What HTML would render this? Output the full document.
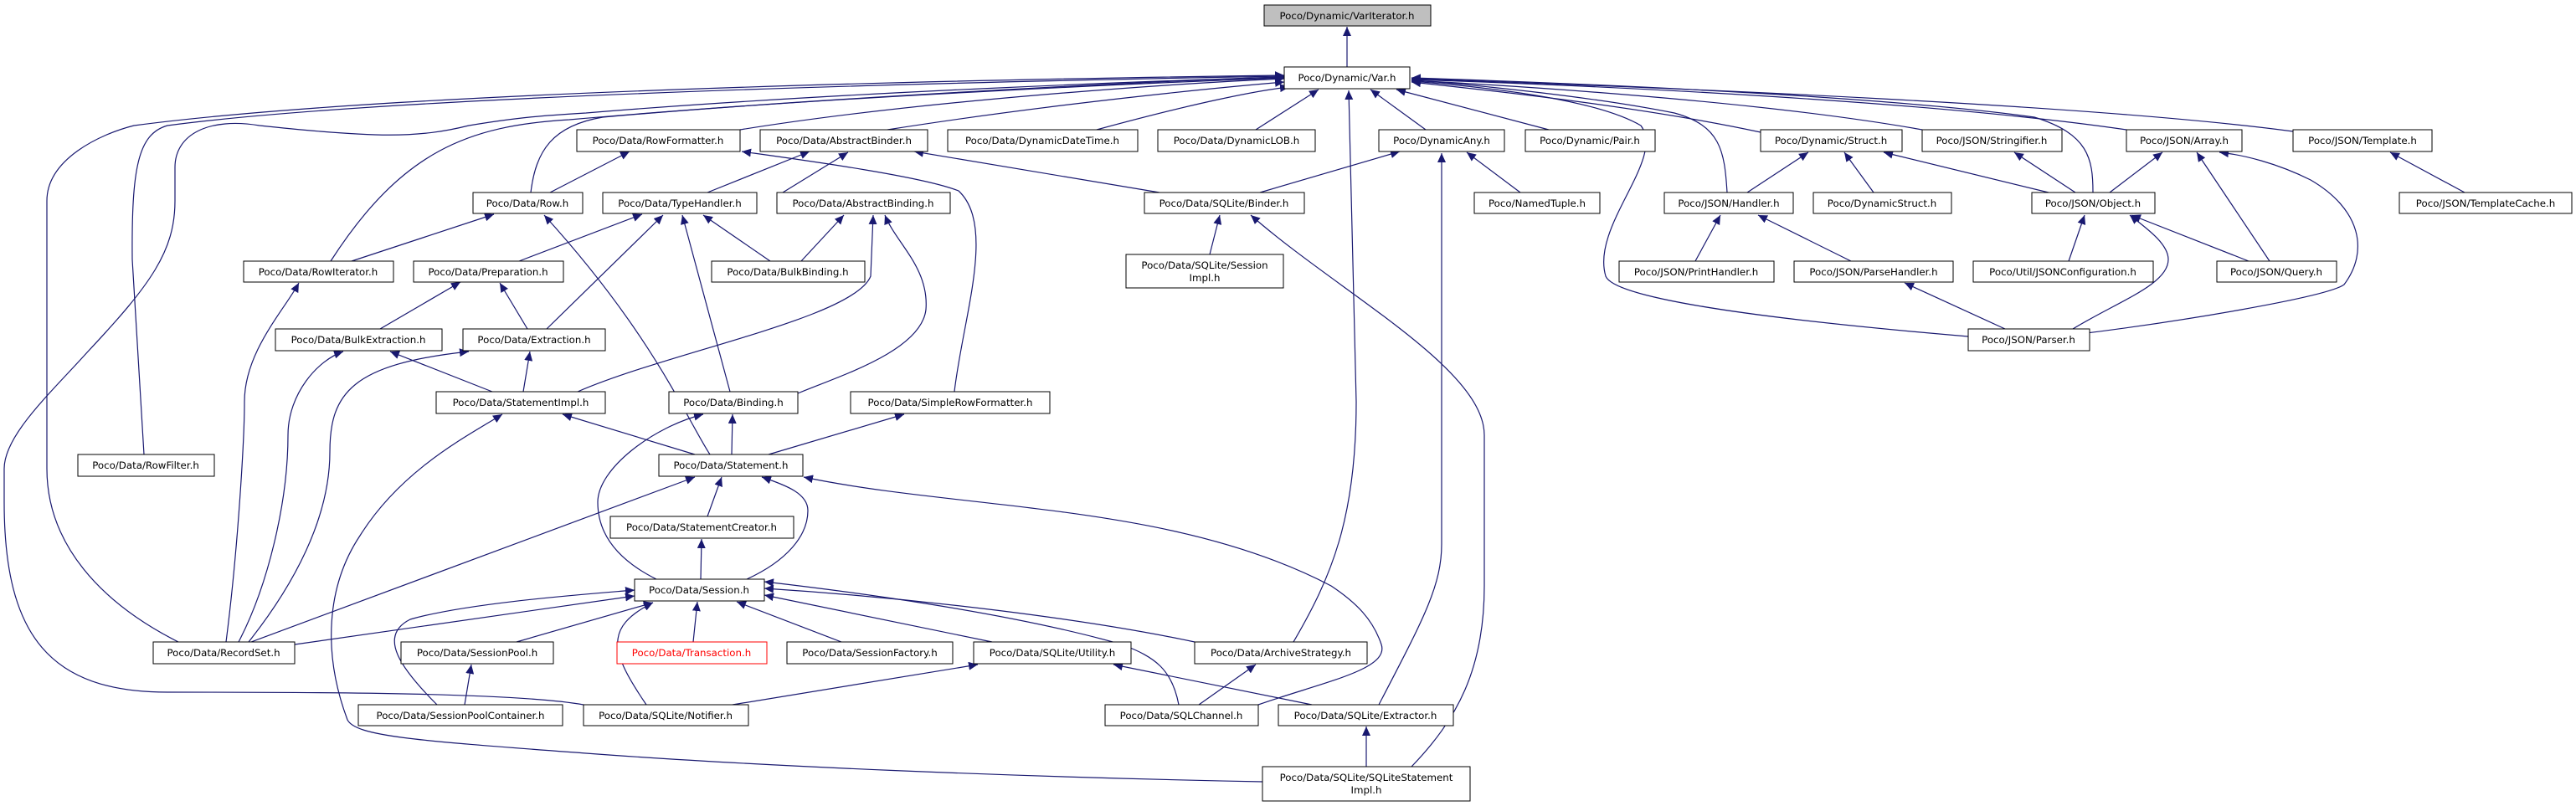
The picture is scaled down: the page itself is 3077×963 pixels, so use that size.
<!DOCTYPE html>
<html><head><meta charset="utf-8"><style>
html,body{margin:0;padding:0;background:#fff;}
svg{display:block}
text{font-family:"DejaVu Sans","Liberation Sans",sans-serif;font-size:11.8px;fill:#000;text-anchor:middle}
.e{fill:none;stroke:#191970;stroke-width:1.2}
.n{fill:#fff;stroke:#000;stroke-width:1}
</style></head><body>
<svg width="3077" height="963" viewBox="0 0 3077 963" xmlns="http://www.w3.org/2000/svg">
<defs><marker id="a" markerUnits="userSpaceOnUse" markerWidth="12" markerHeight="10" refX="11" refY="5" orient="auto"><path d="M0,0 L11,5 L0,10 z" fill="#191970"/></marker></defs>
<g class="e" marker-end="url(#a)">
<path d="M1609,80 L1609,32"/>
<path d="M884,155 C1100,120 1400,100 1534,94"/>
<path d="M1060,155 C1250,125 1450,105 1534,98"/>
<path d="M1310,155 C1420,125 1500,108 1540,104"/>
<path d="M1500,155 L1575,107"/>
<path d="M1703,155 L1637,107"/>
<path d="M1850,155 L1668,107"/>
<path d="M1545,767 C1590,690 1620,620 1620,480 L1611,108"/>
<path d="M634,230 C640,180 660,150 720,140 C1000,115 1400,98 1534,93"/>
<path d="M395,312 C480,180 560,150 680,143 C1000,115 1400,96 1534,92"/>
<path d="M172,543 L158,310 C157,200 165,160 200,150 C500,110 1300,95 1534,91"/>
<path d="M213,767 C120,720 56,650 56,560 L56,240 C56,190 120,160 160,150 C500,105 1300,93 1534,90"/>
<path d="M697,842 C620,828 400,827 200,827 C60,827 5,760 5,600 L5,560 C5,520 60,470 105,420 C180,340 209,300 209,240 L209,200 C209,160 250,140 310,150 C450,165 500,165 560,150 C620,140 650,138 700,135 C1000,110 1400,96 1534,92"/>
<path d="M2103,158 C1950,125 1750,105 1686,98"/>
<path d="M2296,155 C2100,120 1800,102 1686,96"/>
<path d="M2540,155 C2300,120 1900,102 1686,95"/>
<path d="M2739,157 C2500,125 2000,105 1686,94"/>
<path d="M2500,230 C2500,190 2495,160 2430,140 C2250,115 1900,100 1686,93"/>
<path d="M2063,230 C2060,180 2055,150 2000,135 C1900,115 1750,100 1686,96"/>
<path d="M2351,402 C2150,385 1930,360 1918,330 C1900,270 1990,190 1960,150 C1900,115 1750,102 1686,97"/>
<path d="M657,230 L752,181"/>
<path d="M845,230 L967,181"/>
<path d="M935,230 L1013,182"/>
<path d="M1385,230 L1092,181"/>
<path d="M1140,468 C1150,380 1190,270 1145,228 C1100,210 950,190 886,181"/>
<path d="M1505,230 L1672,181"/>
<path d="M1816,230 L1752,182"/>
<path d="M1647,842 C1700,740 1722,700 1722,650 L1722,183"/>
<path d="M1445,304 L1457,257"/>
<path d="M1686,916 C1740,860 1773,800 1773,700 L1773,520 C1773,440 1600,350 1494,257"/>
<path d="M420,312 L590,256"/>
<path d="M848,543 C820,500 780,400 650,257"/>
<path d="M620,312 L767,256"/>
<path d="M653,393 L792,257"/>
<path d="M872,468 L815,257"/>
<path d="M920,312 L840,257"/>
<path d="M957,312 L1008,257"/>
<path d="M690,468 C800,420 1020,380 1040,330 L1043,257"/>
<path d="M953,470 C1000,450 1100,420 1106,370 C1110,320 1070,290 1057,257"/>
<path d="M454,393 L550,337"/>
<path d="M630,393 L597,338"/>
<path d="M270,767 C285,650 292,520 292,480 C292,420 340,370 357,338"/>
<path d="M588,468 L466,420"/>
<path d="M625,468 L633,420"/>
<path d="M285,767 C320,700 344,600 344,520 C344,470 380,430 410,420"/>
<path d="M297,767 C350,700 394,620 394,540 C394,470 420,435 560,420"/>
<path d="M830,543 L672,495"/>
<path d="M1508,934 C1200,928 900,915 700,900 C500,885 425,880 415,860 C385,780 390,700 430,640 C480,560 560,520 600,495"/>
<path d="M874,543 L875,495"/>
<path d="M784,692 C740,670 714,640 714,600 C714,560 780,510 840,495"/>
<path d="M918,543 L1080,495"/>
<path d="M845,617 L862,570"/>
<path d="M892,692 C940,670 965,640 965,610 C965,590 940,580 910,570"/>
<path d="M300,767 L830,570"/>
<path d="M1503,842 C1580,815 1660,800 1650,770 C1640,740 1620,720 1590,700 C1400,600 1150,610 960,570"/>
<path d="M837,692 L838,644"/>
<path d="M352,770 L758,712"/>
<path d="M522,842 C480,800 450,760 490,740 C560,720 700,710 758,705"/>
<path d="M772,842 C730,780 720,750 780,720"/>
<path d="M617,767 L780,720"/>
<path d="M828,767 L833,719"/>
<path d="M1005,767 L880,719"/>
<path d="M1185,767 L913,711"/>
<path d="M1427,767 C1300,740 1100,715 913,703"/>
<path d="M1408,842 C1400,800 1380,785 1340,770 C1200,730 1000,705 913,695"/>
<path d="M555,842 L563,794"/>
<path d="M875,842 L1168,794"/>
<path d="M1567,842 L1330,794"/>
<path d="M1432,842 L1500,794"/>
<path d="M1632,916 L1632,868"/>
<path d="M2087,230 L2160,182"/>
<path d="M2238,230 L2203,182"/>
<path d="M2447,230 L2250,182"/>
<path d="M2479,230 L2406,182"/>
<path d="M2520,230 L2583,182"/>
<path d="M2711,312 L2624,182"/>
<path d="M2476,400 C2600,385 2780,355 2800,340 C2830,300 2820,250 2760,215 C2720,195 2680,185 2651,182"/>
<path d="M2944,230 L2855,182"/>
<path d="M2025,312 L2055,257"/>
<path d="M2211,312 L2100,257"/>
<path d="M2471,312 L2490,257"/>
<path d="M2686,312 L2546,257"/>
<path d="M2476,393 C2530,360 2590,340 2590,310 C2590,290 2560,270 2544,257"/>
<path d="M2395,393 L2275,338"/>
</g>
<g>
<rect class="n" x="1510" y="6" width="199" height="25" style="fill:#bfbfbf"/><text x="1609" y="23">Poco/Dynamic/VarIterator.h</text>
<rect class="n" x="1534" y="80" width="150" height="26"/><text x="1609" y="97">Poco/Dynamic/Var.h</text>
<rect class="n" x="689" y="155" width="195" height="26"/><text x="786" y="172">Poco/Data/RowFormatter.h</text>
<rect class="n" x="908" y="155" width="200" height="26"/><text x="1008" y="172">Poco/Data/AbstractBinder.h</text>
<rect class="n" x="1132" y="155" width="227" height="26"/><text x="1245" y="172">Poco/Data/DynamicDateTime.h</text>
<rect class="n" x="1383" y="155" width="188" height="26"/><text x="1477" y="172">Poco/Data/DynamicLOB.h</text>
<rect class="n" x="1647" y="155" width="150" height="26"/><text x="1722" y="172">Poco/DynamicAny.h</text>
<rect class="n" x="1822" y="155" width="155" height="26"/><text x="1899" y="172">Poco/Dynamic/Pair.h</text>
<rect class="n" x="2103" y="155" width="169" height="26"/><text x="2187" y="172">Poco/Dynamic/Struct.h</text>
<rect class="n" x="2296" y="155" width="167" height="26"/><text x="2379" y="172">Poco/JSON/Stringifier.h</text>
<rect class="n" x="2540" y="155" width="138" height="26"/><text x="2609" y="172">Poco/JSON/Array.h</text>
<rect class="n" x="2739" y="155" width="166" height="26"/><text x="2822" y="172">Poco/JSON/Template.h</text>
<rect class="n" x="565" y="230" width="131" height="25"/><text x="630" y="247">Poco/Data/Row.h</text>
<rect class="n" x="720" y="230" width="184" height="25"/><text x="812" y="247">Poco/Data/TypeHandler.h</text>
<rect class="n" x="928" y="230" width="207" height="25"/><text x="1031" y="247">Poco/Data/AbstractBinding.h</text>
<rect class="n" x="1367" y="230" width="191" height="25"/><text x="1462" y="247">Poco/Data/SQLite/Binder.h</text>
<rect class="n" x="1761" y="230" width="150" height="25"/><text x="1836" y="247">Poco/NamedTuple.h</text>
<rect class="n" x="1988" y="230" width="154" height="25"/><text x="2065" y="247">Poco/JSON/Handler.h</text>
<rect class="n" x="2166" y="230" width="165" height="25"/><text x="2248" y="247">Poco/DynamicStruct.h</text>
<rect class="n" x="2427" y="230" width="147" height="25"/><text x="2500" y="247">Poco/JSON/Object.h</text>
<rect class="n" x="2866" y="230" width="206" height="25"/><text x="2969" y="247">Poco/JSON/TemplateCache.h</text>
<rect class="n" x="291" y="312" width="179" height="25"/><text x="380" y="329">Poco/Data/RowIterator.h</text>
<rect class="n" x="494" y="312" width="179" height="25"/><text x="583" y="329">Poco/Data/Preparation.h</text>
<rect class="n" x="850" y="312" width="183" height="25"/><text x="941" y="329">Poco/Data/BulkBinding.h</text>
<rect class="n" x="1345" y="304" width="188" height="40"/><text x="1439" y="321">Poco/Data/SQLite/Session</text><text x="1439" y="336">Impl.h</text>
<rect class="n" x="1934" y="312" width="185" height="25"/><text x="2026" y="329">Poco/JSON/PrintHandler.h</text>
<rect class="n" x="2143" y="312" width="190" height="25"/><text x="2238" y="329">Poco/JSON/ParseHandler.h</text>
<rect class="n" x="2357" y="312" width="215" height="25"/><text x="2464" y="329">Poco/Util/JSONConfiguration.h</text>
<rect class="n" x="2648" y="312" width="143" height="25"/><text x="2719" y="329">Poco/JSON/Query.h</text>
<rect class="n" x="329" y="393" width="199" height="26"/><text x="428" y="410">Poco/Data/BulkExtraction.h</text>
<rect class="n" x="553" y="393" width="170" height="26"/><text x="638" y="410">Poco/Data/Extraction.h</text>
<rect class="n" x="2351" y="393" width="145" height="26"/><text x="2423" y="410">Poco/JSON/Parser.h</text>
<rect class="n" x="521" y="468" width="202" height="26"/><text x="622" y="485">Poco/Data/StatementImpl.h</text>
<rect class="n" x="799" y="468" width="154" height="26"/><text x="876" y="485">Poco/Data/Binding.h</text>
<rect class="n" x="1016" y="468" width="238" height="26"/><text x="1135" y="485">Poco/Data/SimpleRowFormatter.h</text>
<rect class="n" x="93" y="543" width="163" height="26"/><text x="174" y="560">Poco/Data/RowFilter.h</text>
<rect class="n" x="787" y="543" width="172" height="26"/><text x="873" y="560">Poco/Data/Statement.h</text>
<rect class="n" x="729" y="617" width="219" height="26"/><text x="838" y="634">Poco/Data/StatementCreator.h</text>
<rect class="n" x="758" y="692" width="155" height="26"/><text x="835" y="709">Poco/Data/Session.h</text>
<rect class="n" x="183" y="767" width="169" height="26"/><text x="267" y="784">Poco/Data/RecordSet.h</text>
<rect class="n" x="479" y="767" width="182" height="26"/><text x="570" y="784">Poco/Data/SessionPool.h</text>
<rect class="n" x="737" y="767" width="179" height="26" style="stroke:#ff0000"/><text x="826" y="784" style="fill:#ff0000">Poco/Data/Transaction.h</text>
<rect class="n" x="940" y="767" width="198" height="26"/><text x="1039" y="784">Poco/Data/SessionFactory.h</text>
<rect class="n" x="1163" y="767" width="188" height="26"/><text x="1257" y="784">Poco/Data/SQLite/Utility.h</text>
<rect class="n" x="1427" y="767" width="206" height="26"/><text x="1530" y="784">Poco/Data/ArchiveStrategy.h</text>
<rect class="n" x="428" y="842" width="244" height="25"/><text x="550" y="859">Poco/Data/SessionPoolContainer.h</text>
<rect class="n" x="697" y="842" width="197" height="25"/><text x="795" y="859">Poco/Data/SQLite/Notifier.h</text>
<rect class="n" x="1320" y="842" width="183" height="25"/><text x="1411" y="859">Poco/Data/SQLChannel.h</text>
<rect class="n" x="1527" y="842" width="209" height="25"/><text x="1631" y="859">Poco/Data/SQLite/Extractor.h</text>
<rect class="n" x="1508" y="916" width="248" height="41"/><text x="1632" y="933">Poco/Data/SQLite/SQLiteStatement</text><text x="1632" y="948">Impl.h</text>
</g>
</svg>
</body></html>
